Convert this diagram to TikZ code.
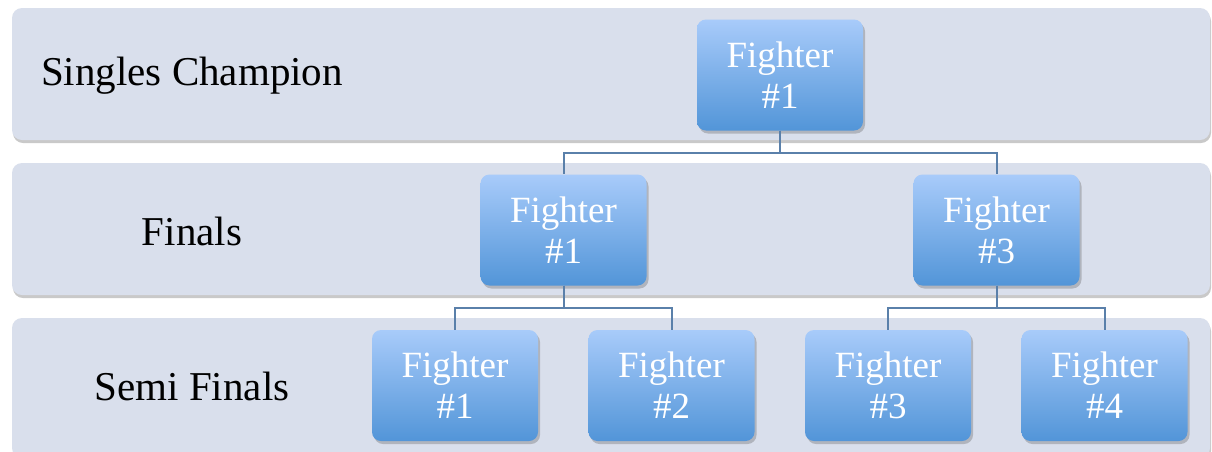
\documentclass[tikz,border=0pt]{standalone}
\usepackage{fontspec}
\setmainfont{Liberation Serif}
\usetikzlibrary{shadows}
\definecolor{bandfill}{HTML}{D9DFEC}
\definecolor{boxtop}{HTML}{A8CBFA}
\definecolor{boxbot}{HTML}{5295D8}
\definecolor{linkcol}{HTML}{5A80AA}
\tikzset{
  band/.style={fill=bandfill, rounded corners=10pt, draw=none,
    drop shadow={shadow xshift=1pt, shadow yshift=-3pt, opacity=0.35, fill=black!60}},
  fighter/.style={rounded corners=9pt, minimum width=166pt, minimum height=111pt,
    top color=boxtop, bottom color=boxbot, draw=none, text=white,
    align=center, inner sep=0pt,
    font=\fontsize{37}{41}\selectfont,
    drop shadow={shadow xshift=2pt, shadow yshift=-3pt, opacity=0.35, fill=black!60}},
  label/.style={font=\fontsize{41}{45}\selectfont, text=black},
  link/.style={draw=linkcol, line width=2pt}
}
\begin{document}
\begin{tikzpicture}[x=1pt, y=-1pt]
\useasboundingbox (0,0) rectangle (1212,451);
\fill[white] (0,0) rectangle (1212,451);
% bands
\node[band, minimum width=1198pt, minimum height=132pt, inner sep=0pt] (b1) at (611,74) {};
\node[band, minimum width=1198pt, minimum height=132pt, inner sep=0pt] (b2) at (611,229) {};
\node[band, minimum width=1198pt, minimum height=140pt, inner sep=0pt] (b3) at (611,388) {};
% labels
\node[label] (l1) at (192,76) {Singles Champion};
\node[label] (l2) at (192,231) {Finals};
\node[label] (l3) at (192,386) {Semi Finals};
% fighters
\node[fighter] (c) at (780,75) {Fighter\\\#1};
\node[fighter] (f1) at (563.5,230) {Fighter\\\#1};
\node[fighter] (f3) at (996.5,230) {Fighter\\\#3};
\node[fighter] (s1) at (455,385.5) {Fighter\\\#1};
\node[fighter] (s2) at (671.5,385.5) {Fighter\\\#2};
\node[fighter] (s3) at (888,385.5) {Fighter\\\#3};
\node[fighter] (s4) at (1104.5,385.5) {Fighter\\\#4};
% connectors
\draw[link] (c.south) -- ++(0,22) -| (f1.north);
\draw[link] (c.south) -- ++(0,22) -| (f3.north);
\draw[link] (f1.south) -- ++(0,22) -| (s1.north);
\draw[link] (f1.south) -- ++(0,22) -| (s2.north);
\draw[link] (f3.south) -- ++(0,22) -| (s3.north);
\draw[link] (f3.south) -- ++(0,22) -| (s4.north);
\end{tikzpicture}
\end{document}
